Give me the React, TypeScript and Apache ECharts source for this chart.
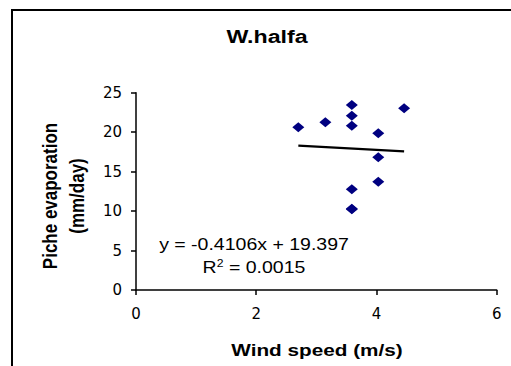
import React, { useEffect, useRef } from "react";
import * as echarts from "echarts";

const windSpeed = [2.7, 3.15, 3.59, 3.59, 3.59, 3.59, 3.59, 3.59, 4.03, 4.03, 4.03, 4.46];
const evaporation = [20.62, 21.25, 23.45, 22.09, 20.82, 12.76, 10.23, 10.3, 19.86, 16.82, 13.73, 23.02];
const trendX = [2.7, 4.46];
const trendY = [18.29, 17.57];
const xTicks = [0, 2, 4, 6];
const yTicks = [0, 5, 10, 15, 20, 25];
const chartTitle = "W.halfa";
const xTitle = "Wind speed (m/s)";
const yTitle = "Piche evaporation\n(mm/day)";
const equationText = "y = -0.4106x + 19.397";
const rSquaredText = "0.0015";

const ARIAL = "'Liberation Sans', Arial, sans-serif";
const LABEL_FONT = "'DejaVu Sans', 'Liberation Sans', sans-serif";
const SX = 1.22;

export default function App() {
  const ref = useRef<HTMLDivElement>(null);
  useEffect(() => {
    if (!ref.current) return;
    const chart = echarts.init(ref.current, null, { renderer: "svg" });
    const points = windSpeed.map((x, i) => [x, evaporation[i]]);
    const trend = trendX.map((x, i) => [x, trendY[i]]);
    chart.setOption({
      animation: false,
      backgroundColor: "#ffffff",
      grid: { left: 136, right: 14.3, top: 92.7, bottom: 76 },
      xAxis: {
        type: "value",
        min: xTicks[0],
        max: xTicks[xTicks.length - 1],
        interval: xTicks[1] - xTicks[0],
        axisLine: { show: true, onZero: false, lineStyle: { color: "#000", width: 1.5 } },
        axisTick: { show: true, inside: false, length: 5, lineStyle: { color: "#000", width: 1.5 } },
        axisLabel: { color: "#000", fontSize: 15, fontFamily: LABEL_FONT, margin: 16 },
        splitLine: { show: false },
      },
      yAxis: {
        type: "value",
        min: yTicks[0],
        max: yTicks[yTicks.length - 1],
        interval: yTicks[1] - yTicks[0],
        axisLine: { show: true, onZero: false, lineStyle: { color: "#000", width: 1.5 } },
        axisTick: { show: true, inside: false, length: 5, lineStyle: { color: "#000", width: 1.5 } },
        axisLabel: { color: "#000", fontSize: 15, fontFamily: LABEL_FONT, margin: 14 },
        splitLine: { show: false },
      },
      series: [
        {
          type: "line",
          data: trend,
          showSymbol: false,
          symbol: "none",
          lineStyle: { color: "#000", width: 2.4 },
          z: 2,
        },
        {
          type: "scatter",
          data: points,
          symbol: "diamond",
          symbolSize: [12, 10],
          itemStyle: { color: "#000080", opacity: 1 },
          z: 3,
        },
      ],
      graphic: [
        {
          type: "rect",
          shape: { x: 12, y: 10, width: 700, height: 600 },
          style: { fill: "none", stroke: "#000", lineWidth: 2 },
          silent: true,
          z: -1,
        },
        {
          type: "text",
          x: 267,
          y: 36,
          scaleX: SX,
          style: {
            text: chartTitle,
            font: `bold 19px ${ARIAL}`,
            fill: "#000",
            textAlign: "center",
            textVerticalAlign: "middle",
          },
        },
        {
          type: "text",
          x: 317,
          y: 350,
          scaleX: SX,
          style: {
            text: xTitle,
            font: `bold 17px ${ARIAL}`,
            fill: "#000",
            textAlign: "center",
            textVerticalAlign: "middle",
          },
        },
        {
          type: "text",
          x: 63,
          y: 196,
          rotation: Math.PI / 2,
          scaleY: SX,
          style: {
            text: yTitle,
            font: `bold 17px ${ARIAL}`,
            lineHeight: 22,
            fill: "#000",
            textAlign: "center",
            textVerticalAlign: "middle",
          },
        },
        {
          type: "text",
          x: 254,
          y: 245,
          scaleX: SX,
          style: {
            text: equationText,
            font: `16px ${ARIAL}`,
            fill: "#000",
            textAlign: "center",
            textVerticalAlign: "middle",
          },
        },
        {
          type: "text",
          x: 254,
          y: 268,
          scaleX: SX,
          style: {
            text: `R{sup|2} = ${rSquaredText}`,
            font: `16px ${ARIAL}`,
            fill: "#000",
            textAlign: "center",
            textVerticalAlign: "middle",
            rich: {
              sup: { fontSize: 10, fontFamily: ARIAL, verticalAlign: "top", fill: "#000", padding: [0, 0, 9, 0] },
            },
          },
        },
      ],
    });
    return () => chart.dispose();
  }, []);
  return (
    <div
      ref={ref}
      style={{ position: "fixed", left: 0, top: 0, width: 511, height: 366 }}
    />
  );
}
